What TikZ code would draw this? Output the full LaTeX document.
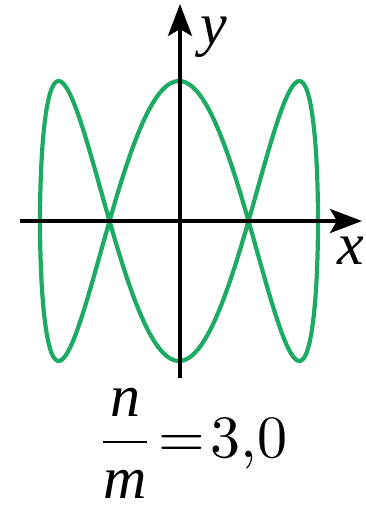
\documentclass[tikz,border=0pt]{standalone}
\usepackage{fontspec}
\setmainfont{Liberation Serif}
\usepackage{xcolor}
\definecolor{CurveGreen}{HTML}{1DAA62}
\usepackage{tikz}
\usetikzlibrary{arrows.meta,positioning}

\begin{document}
\begin{tikzpicture}[x=1pt,y=1pt,
  axis/.style={-{Stealth[length=32pt,width=24pt,inset=7pt]},line width=3.6pt},
  curve/.style={CurveGreen,line width=4.2pt},
  lbl/.style={inner sep=0pt,scale=6,transform shape}
]
  \useasboundingbox (0,0) rectangle (366,507);
  \coordinate (xs) at (20,286);
  \coordinate (xe) at (362,286);
  \coordinate (ys) at (180,129);
  \coordinate (ye) at (180,503);
  \draw[curve] plot[domain=0:360,samples=240,smooth] ({179+139*cos(\x)},{286+140*sin(3*\x)});
  \draw[axis] (xs)--(xe);
  \draw[axis] (ys)--(ye);
  \node[lbl,anchor=base west] (ylab) at (199,462) {\itshape y};
  \node[lbl,anchor=base west] (xlab) at (336,242) {\itshape x};
  \node[lbl,anchor=base west] (ratio) at (95,50) {$\displaystyle\frac{\hbox{\itshape n}}{\hbox{\itshape m}}\mkern1.5mu{=}\mkern1.5mu3{,}0$};
\end{tikzpicture}
\end{document}
